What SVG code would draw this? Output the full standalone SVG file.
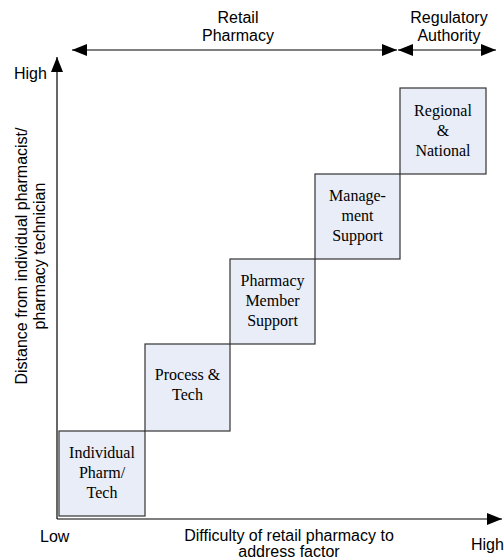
<svg xmlns="http://www.w3.org/2000/svg" width="504" height="560" viewBox="0 0 504 560">
<defs>
<style>
.box{fill:#E8EDF7;stroke:#333;stroke-width:1.2}
.bt{font-family:"Liberation Serif",serif;font-size:16px;fill:#000;text-anchor:middle}
.st{font-family:"Liberation Sans",Arial,sans-serif;font-size:16px;fill:#000}
.ax{stroke:#000;stroke-width:1.2;fill:none}
</style>
<marker id="ah" markerWidth="16" markerHeight="12" refX="15" refY="6" orient="auto-start-reverse" markerUnits="userSpaceOnUse">
<path d="M0,0 L15,6 L0,12 Z" fill="#000"/>
</marker>
</defs>
<rect width="504" height="560" fill="#fff"/>
<g id="connectors">
<line class="ax" x1="57" y1="519" x2="57" y2="57" marker-end="url(#ah)"/>
<line class="ax" x1="57" y1="519" x2="502" y2="519" marker-end="url(#ah)"/>
<line class="ax" x1="72" y1="50" x2="397" y2="50" marker-start="url(#ah)" marker-end="url(#ah)"/>
<line class="ax" x1="398" y1="50" x2="496" y2="50" marker-start="url(#ah)" marker-end="url(#ah)"/>
</g>
<g id="labels">
<text class="st" x="238" y="23" text-anchor="middle">Retail</text>
<text class="st" x="238" y="41" text-anchor="middle">Pharmacy</text>
<text class="st" x="449" y="23" text-anchor="middle">Regulatory</text>
<text class="st" x="449" y="41" text-anchor="middle">Authority</text>
<text class="st" x="14" y="79">High</text>
<text class="st" x="40" y="542">Low</text>
<text class="st" x="471" y="550">High</text>
<text class="st" x="289" y="541" text-anchor="middle">Difficulty of retail pharmacy to</text>
<text class="st" x="289" y="557" text-anchor="middle">address factor</text>
<g transform="translate(27,256) rotate(-90)">
<text class="st" x="0" y="0" text-anchor="middle">Distance from individual pharmacist/</text>
<text class="st" x="0" y="18" text-anchor="middle">pharmacy technician</text>
</g>
</g>
<g id="n1"><rect class="box" x="59" y="431" width="86" height="85"/>
<text class="bt" x="102" y="458">Individual</text><text class="bt" x="102" y="478">Pharm/</text><text class="bt" x="102" y="498">Tech</text></g>
<g id="n2"><rect class="box" x="145" y="344" width="85" height="87"/>
<text class="bt" x="187.5" y="380">Process &amp;</text><text class="bt" x="187.5" y="400">Tech</text></g>
<g id="n3"><rect class="box" x="230" y="259" width="85" height="85"/>
<text class="bt" x="272.5" y="286">Pharmacy</text><text class="bt" x="272.5" y="306">Member</text><text class="bt" x="272.5" y="326">Support</text></g>
<g id="n4"><rect class="box" x="315" y="174" width="85" height="85"/>
<text class="bt" x="357.5" y="201">Manage-</text><text class="bt" x="357.5" y="221">ment</text><text class="bt" x="357.5" y="241">Support</text></g>
<g id="n5"><rect class="box" x="400" y="88" width="86" height="86"/>
<text class="bt" x="443" y="116">Regional</text><text class="bt" x="443" y="136">&amp;</text><text class="bt" x="443" y="156">National</text></g>
</svg>
